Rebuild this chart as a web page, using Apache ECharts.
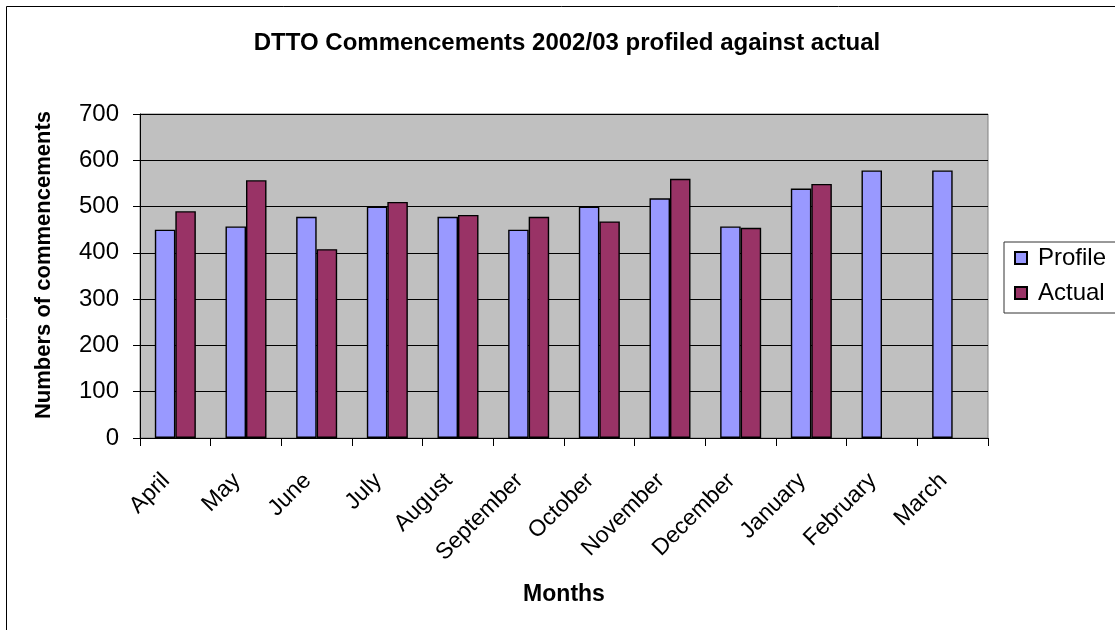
<!DOCTYPE html>
<html>
<head>
<meta charset="utf-8">
<script src="https://cdn.jsdelivr.net/npm/echarts@6/dist/echarts.min.js"></script>
<style>
html,body{margin:0;padding:0;background:#fff;}
#chart{width:1115px;height:630px;}
</style>
</head>
<body>
<div id="chart"></div>
<script>
const months = ['April','May','June','July','August','September','October','November','December','January','February','March'];
const profile = [450, 457, 478, 500, 478, 450, 500, 518, 457, 539, 578, 578];
const actual = [490, 557, 408, 510, 482, 478, 468, 560, 454, 549, null, null];
const yTicks = [0, 100, 200, 300, 400, 500, 600, 700];

const chart = echarts.init(document.getElementById('chart'));
const font = 'Arial, "Liberation Sans", sans-serif';
chart.setOption({
  animation: false,
  backgroundColor: '#ffffff',
  graphic: [{
    type: 'rect', left: 4, top: 4, silent: true,
    shape: { width: 1300, height: 800 },
    style: { fill: 'none', stroke: '#000', lineWidth: 1 }
  }],
  title: {
    text: 'DTTO Commencements 2002/03 profiled against actual',
    left: 567, top: 31, textAlign: 'center', padding: 0,
    textStyle: { fontFamily: font, fontSize: 24, lineHeight: 24, fontWeight: 'bold', color: '#000' }
  },
  legend: {
    orient: 'vertical',
    left: 1004, top: 242,
    padding: [4, 40, 8, 10],
    itemGap: 11,
    itemWidth: 12, itemHeight: 12,
    borderColor: '#333', borderWidth: 1,
    icon: 'rect',
    textStyle: { fontFamily: font, fontSize: 24, lineHeight: 24, color: '#000', padding: [0, 0, 0, 6] },
    data: ['Profile', 'Actual']
  },
  grid: {
    left: 140, top: 114, width: 848, height: 324,
    show: true, backgroundColor: '#C0C0C0', borderColor: '#808080', borderWidth: 1,
    containLabel: false
  },
  xAxis: {
    type: 'category',
    data: months,
    boundaryGap: true,
    name: 'Months',
    nameLocation: 'middle',
    nameGap: 145,
    nameTextStyle: { fontFamily: font, fontSize: 23, fontWeight: 'bold', color: '#000' },
    axisLine: { lineStyle: { color: '#000', width: 1 } },
    axisTick: { show: true, alignWithLabel: false, length: 8, lineStyle: { color: '#000' } },
    axisLabel: { rotate: 45, fontFamily: font, fontSize: 23, color: '#000', margin: 30, interval: 0, padding: [0, 13, 0, 0] }
  },
  yAxis: {
    type: 'value',
    min: yTicks[0], max: yTicks[yTicks.length - 1], interval: 100,
    name: 'Numbers of commencements',
    nameLocation: 'middle',
    nameGap: 85,
    nameTextStyle: { fontFamily: font, fontSize: 22, fontWeight: 'bold', color: '#000', padding: [0, 0, 0, 22] },
    axisLine: { show: true, lineStyle: { color: '#000', width: 1 } },
    axisTick: { show: true, length: 7, lineStyle: { color: '#000' } },
    axisLabel: { fontFamily: font, fontSize: 24, color: '#000', margin: 21 },
    splitLine: { show: true, lineStyle: { color: '#000', width: 1 } }
  },
  series: [
    {
      name: 'Profile', type: 'bar', data: profile,
      barWidth: 20.5, barGap: '0%',
      itemStyle: { color: '#9999FF', borderColor: '#000', borderWidth: 1.4 }
    },
    {
      name: 'Actual', type: 'bar', data: actual,
      barWidth: 20.5, barGap: '0%',
      itemStyle: { color: '#993366', borderColor: '#000', borderWidth: 1.4 }
    }
  ]
});
</script>
</body>
</html>
